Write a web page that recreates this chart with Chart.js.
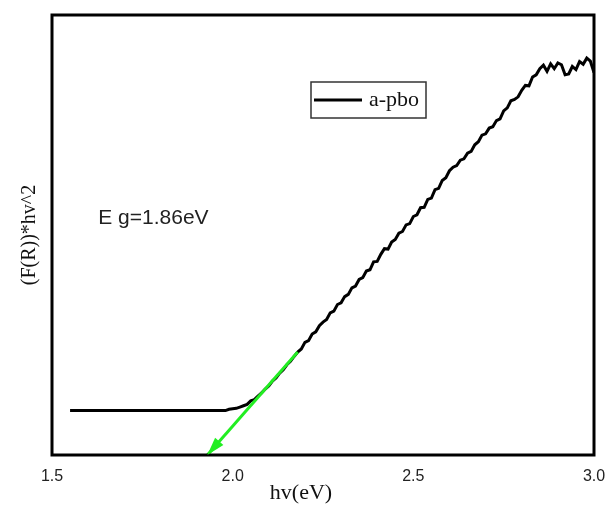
<!DOCTYPE html>
<html>
<head>
<meta charset="utf-8">
<script src="https://cdn.jsdelivr.net/npm/chart.js@4"></script>
<style>
  html, body { margin: 0; padding: 0; background: #ffffff; }
  #wrap { width: 608px; height: 506px; }
</style>
</head>
<body>
<div id="wrap"><canvas id="chart" width="608" height="506"></canvas></div>
<script>
// Photon energy (eV)
const hv = [
  1.55, 1.60, 1.65, 1.70, 1.75, 1.80, 1.85, 1.90, 1.95, 1.98,
  1.99, 2.00, 2.01, 2.02, 2.03, 2.04, 2.05, 2.06, 2.07, 2.08,
  2.09, 2.10, 2.11, 2.12, 2.13, 2.14, 2.15, 2.16, 2.17, 2.18,
  2.19, 2.20, 2.21, 2.22, 2.23, 2.24, 2.25, 2.26, 2.27, 2.28,
  2.29, 2.30, 2.31, 2.32, 2.33, 2.34, 2.35, 2.36, 2.37, 2.38,
  2.39, 2.40, 2.41, 2.42, 2.43, 2.44, 2.45, 2.46, 2.47, 2.48,
  2.49, 2.50, 2.51, 2.52, 2.53, 2.54, 2.55, 2.56, 2.57, 2.58,
  2.59, 2.60, 2.61, 2.62, 2.63, 2.64, 2.65, 2.66, 2.67, 2.68,
  2.69, 2.70, 2.71, 2.72, 2.73, 2.74, 2.75, 2.76, 2.77, 2.78,
  2.79, 2.80, 2.81, 2.82, 2.83, 2.84, 2.85, 2.86, 2.87, 2.88,
  2.89, 2.90, 2.91, 2.92, 2.93, 2.94, 2.95, 2.96, 2.97, 2.98,
  2.99, 3.00
];

// (F(R)*hv)^2, arbitrary units
const kmSquared = [
  10.1, 10.1, 10.1, 10.1, 10.1, 10.1, 10.1, 10.1, 10.1, 10.1,
  10.4, 10.5, 10.6, 10.9, 11.2, 11.5, 12.3, 12.6, 13.4, 14.1,
  15.0, 15.7, 16.8, 17.5, 18.6, 19.4, 20.5, 21.3, 22.4, 23.4,
  24.1, 25.6, 26.0, 27.5, 28.0, 29.4, 30.2, 30.8, 32.3, 32.7,
  34.2, 34.6, 36.0, 36.5, 38.0, 38.4, 39.9, 40.3, 41.8, 42.1,
  43.9, 44.0, 45.6, 46.9, 46.8, 48.4, 49.0, 50.4, 50.8, 52.3,
  52.6, 54.2, 54.6, 56.2, 56.3, 58.1, 58.4, 60.3, 60.6, 62.4,
  63.0, 64.6, 65.4, 65.8, 67.0, 67.3, 68.6, 69.0, 70.5, 71.2,
  72.7, 73.0, 74.3, 74.6, 76.0, 76.4, 78.2, 78.9, 80.5, 80.8,
  81.4, 82.9, 84.0, 83.9, 85.9, 86.4, 87.8, 88.6, 87.2, 88.9,
  87.8, 89.1, 88.7, 86.4, 86.6, 88.3, 87.6, 89.4, 88.8, 90.2,
  89.5, 86.9
];

// Linear extrapolation of the absorption edge (drawn from upper end to the axis)
const fitHv = [2.18, 1.93];
const fitY = [23.4, 0];

// Axis ticks and texts
const xTickValues = [1.5, 2.0, 2.5, 3.0];
const seriesLabel = 'a-pbo';
const gapNote = 'E g=1.86eV';
const gapNoteAt = [1.628, 52.5];   // [hv, y] anchor of the note
const xTitle = 'hv(eV)        ';   // trailing spaces nudge the centred title leftwards
const yTitle = '(F(R))*hv^2';

const toPoints = (xs, ys) => xs.map((x, i) => ({ x: x, y: ys[i] }));

// Box around the plotting area
const framePlugin = {
  id: 'frame',
  afterDatasetsDraw(chart) {
    const { ctx, chartArea: a } = chart;
    ctx.save();
    ctx.strokeStyle = '#000';
    ctx.lineWidth = 3;
    ctx.strokeRect(a.left, a.top, a.right - a.left, a.bottom - a.top);
    ctx.restore();
  }
};

// Arrow head at the axis end of the extrapolation line
const arrowPlugin = {
  id: 'arrowHead',
  afterDatasetsDraw(chart) {
    const meta = chart.getDatasetMeta(0);
    const pts = meta.data;
    if (pts.length < 2) return;
    const p0 = pts[pts.length - 2], p1 = pts[pts.length - 1];
    const ang = Math.atan2(p1.y - p0.y, p1.x - p0.x);
    const len = 18, half = 5.5;
    const { ctx } = chart;
    ctx.save();
    ctx.fillStyle = chart.data.datasets[0].borderColor;
    ctx.beginPath();
    ctx.moveTo(p1.x, p1.y);
    ctx.lineTo(p1.x - len * Math.cos(ang) + half * Math.sin(ang),
               p1.y - len * Math.sin(ang) - half * Math.cos(ang));
    ctx.lineTo(p1.x - len * Math.cos(ang) - half * Math.sin(ang),
               p1.y - len * Math.sin(ang) + half * Math.cos(ang));
    ctx.closePath();
    ctx.fill();
    ctx.restore();
  }
};

// In-plot legend box and the band-gap note
const notesPlugin = {
  id: 'notes',
  afterDraw(chart) {
    const { ctx, chartArea: a, scales } = chart;
    ctx.save();
    // legend
    const bx = a.left + 259, by = a.top + 67, bw = 115, bh = 36;
    ctx.strokeStyle = '#333';
    ctx.lineWidth = 1.5;
    ctx.strokeRect(bx, by, bw, bh);
    const ds = chart.data.datasets[1];
    ctx.strokeStyle = ds.borderColor;
    ctx.lineWidth = 3;
    ctx.beginPath();
    ctx.moveTo(bx + 3, by + 18);
    ctx.lineTo(bx + 51, by + 18);
    ctx.stroke();
    ctx.fillStyle = '#111';
    ctx.font = '22px "Liberation Serif"';
    ctx.textBaseline = 'middle';
    ctx.fillText(ds.label, bx + 58, by + 18);
    // band gap note
    ctx.font = '21px "Liberation Sans"';
    ctx.textBaseline = 'alphabetic';
    ctx.fillStyle = '#222';
    ctx.fillText(gapNote,
      scales.x.getPixelForValue(gapNoteAt[0]),
      scales.y.getPixelForValue(gapNoteAt[1]));
    ctx.restore();
  }
};

new Chart(document.getElementById('chart'), {
  type: 'line',
  data: {
    datasets: [
      {
        label: 'fit',
        data: toPoints(fitHv, fitY),
        borderColor: '#22ee22',
        borderWidth: 3,
        pointRadius: 0,
        fill: false,
        order: 0
      },
      {
        label: seriesLabel,
        data: toPoints(hv, kmSquared),
        borderColor: '#000000',
        borderWidth: 3,
        pointRadius: 0,
        tension: 0,
        fill: false,
        order: 1
      }
    ]
  },
  options: {
    responsive: false,
    animation: false,
    devicePixelRatio: 1,
    layout: { padding: { left: 0, top: 15, right: 14, bottom: 0 } },
    plugins: {
      legend: { display: false },
      tooltip: { enabled: false }
    },
    scales: {
      x: {
        type: 'linear',
        min: 1.5,
        max: 3.0,
        afterBuildTicks: (s) => { s.ticks = xTickValues.map(v => ({ value: v })); },
        afterFit: (s) => { s.height = 51; s.paddingLeft = 0; s.paddingRight = 0; },
        grid: { display: false, drawTicks: false },
        border: { display: false },
        ticks: {
          callback: (v) => Number(v).toFixed(1),
          font: { family: 'Liberation Sans', size: 16 },
          color: '#222',
          padding: 12,
          maxRotation: 0
        },
        title: {
          display: true,
          text: xTitle,
          font: { family: 'Liberation Serif', size: 22 },
          color: '#111',
          padding: { top: 0, bottom: 0 }
        }
      },
      y: {
        type: 'linear',
        min: 0,
        max: 100,
        afterFit: (s) => { s.width = 52; },
        grid: { display: false, drawTicks: false },
        border: { display: false },
        ticks: { display: false },
        title: {
          display: true,
          text: yTitle,
          font: { family: 'Liberation Serif', size: 20 },
          color: '#111',
          padding: { top: 18, bottom: 0 }
        }
      }
    }
  },
  plugins: [framePlugin, arrowPlugin, notesPlugin]
});
</script>
</body>
</html>
